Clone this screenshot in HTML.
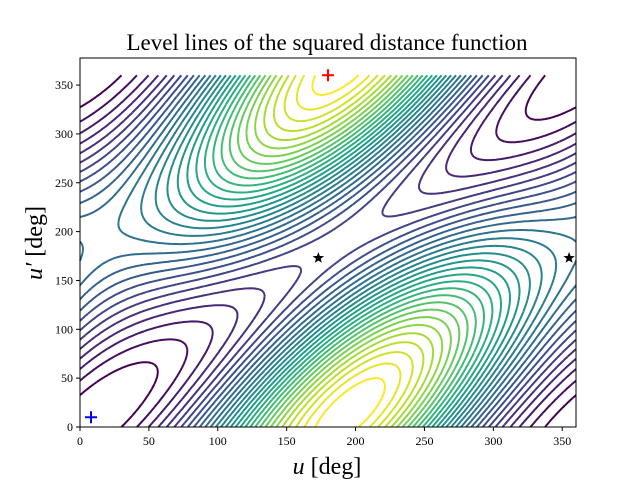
<!DOCTYPE html>
<html><head><meta charset="utf-8">
<style>
body{margin:0;background:#fff;}
svg{display:block;font-family:"Liberation Serif",serif;}
</style></head>
<body>
<svg id="chart" width="640" height="480" viewBox="0 0 640 480">
<rect width="640" height="480" fill="#fff"/>
<text x="327" y="50" font-size="23" text-anchor="middle">Level lines of the squared distance function</text>
<g id="contours"></g>
<rect x="80" y="58" width="496" height="369" fill="none" stroke="#000" stroke-width="1"/>
<g id="ticks"></g>
<g id="markers"></g>
<text x="327" y="474" font-size="24" text-anchor="middle"><tspan font-style="italic">u</tspan> [deg]</text>
<text transform="translate(42,243) rotate(-90)" font-size="24" text-anchor="middle"><tspan font-style="italic">u′</tspan> [deg]</text>
</svg>
<script>
const xTicks=[0,50,100,150,200,250,300,350];
const yTicks=[0,50,100,150,200,250,300,350];
const minimumPoint=[180,360];
const startPoint=[8,10];
const saddlePoints=[[173,173],[355,173]];
const levelCount=30;
const NS="http://www.w3.org/2000/svg";
const X0=80,X1=576,Y0=427,Y1=58;
const xmax=360,ymax=377.7;
function sx(u){return X0+(X1-X0)*u/xmax;}
function sy(v){return Y0-(Y0-Y1)*v/ymax;}
const R=Math.PI/180;
function f(u,v){
  const d=(u-v)*R;
  const base=(1-Math.cos(d))*(1+0.45*Math.cos((u-195)*R));
  const val=0.3*(1-Math.cos((u-10)*R))*(1+Math.cos(d))/2;
  return base+val;
}
const viridis=[[68,1,84],[72,40,120],[62,74,137],[49,104,142],[38,130,142],[31,158,137],[53,183,121],[110,206,88],[181,222,43],[253,231,37]];
function cmap(s){s=Math.max(0,Math.min(1,s))*(viridis.length-1);const i=Math.min(Math.floor(s),viridis.length-2),fr=s-i;
  const c=viridis[i].map((a,k)=>Math.round(a+(viridis[i+1][k]-a)*fr));return `rgb(${c[0]},${c[1]},${c[2]})`;}
const N=180,step=360/N;const grid=[];
let fmin=1e9,fmax=-1e9;
for(let j=0;j<=N;j++){grid[j]=[];for(let i=0;i<=N;i++){const z=f(i*step,j*step);grid[j][i]=z;fmin=Math.min(fmin,z);fmax=Math.max(fmax,z);}}
const cg=document.getElementById('contours');
for(let k=1;k<=levelCount;k++){
  const L=fmin+(fmax-fmin)*k/(levelCount+1);
  let d="";
  for(let j=0;j<N;j++)for(let i=0;i<N;i++){
    const a=grid[j][i],b=grid[j][i+1],c=grid[j+1][i+1],e=grid[j+1][i];
    const pts=[];
    function ed(z1,z2,x1,y1,x2,y2){if((z1<L)!==(z2<L)){const t=(L-z1)/(z2-z1);pts.push([x1+(x2-x1)*t,y1+(y2-y1)*t]);}}
    const u0=i*step,u1=(i+1)*step,v0=j*step,v1=(j+1)*step;
    ed(a,b,u0,v0,u1,v0);ed(b,c,u1,v0,u1,v1);ed(c,e,u1,v1,u0,v1);ed(e,a,u0,v1,u0,v0);
    for(let p=0;p+1<pts.length;p+=2){d+=`M${sx(pts[p][0]).toFixed(1)} ${sy(pts[p][1]).toFixed(1)}L${sx(pts[p+1][0]).toFixed(1)} ${sy(pts[p+1][1]).toFixed(1)}`;}
  }
  const path=document.createElementNS(NS,'path');
  path.setAttribute('d',d);path.setAttribute('fill','none');
  path.setAttribute('stroke',cmap((k-1)/(levelCount-1)));path.setAttribute('stroke-width','2');
  
  
  cg.appendChild(path);
}
const tg=document.getElementById('ticks');
function add(tag,attrs,txt){const el=document.createElementNS(NS,tag);for(const a in attrs)el.setAttribute(a,attrs[a]);if(txt!==undefined)el.textContent=txt;tg.appendChild(el);return el;}
xTicks.forEach(v=>{const x=sx(v);
  const l=add('line',{x1:x,x2:x,y1:Y0,y2:Y0+4,stroke:'#000'});
  
  
  const t=add('text',{x:x,y:Y0+18,'font-size':12,'text-anchor':'middle'},v);
  
  });
yTicks.forEach(v=>{const y=sy(v);
  const l=add('line',{x1:X0-4,x2:X0,y1:y,y2:y,stroke:'#000'});
  
  
  const t=add('text',{x:X0-7,y:y+4,'font-size':12,'text-anchor':'end'},v);
  
  });
const mg=document.getElementById('markers');
function cross(p,col,name){const x=sx(p[0]),y=sy(p[1]);const el=document.createElementNS(NS,'path');
  el.setAttribute('d',`M${x-6} ${y}H${x+6}M${x} ${y-6}V${y+6}`);el.setAttribute('stroke',col);el.setAttribute('stroke-width','2');
  
  
  mg.appendChild(el);}
cross(minimumPoint,'#ff0000','minimum-marker');
cross(startPoint,'#0000ff','start-marker');
saddlePoints.forEach(p=>{const x=sx(p[0]),y=sy(p[1]);let d="";
  for(let k=0;k<10;k++){const r=k%2?2.5:6,a=-Math.PI/2+k*Math.PI/5;d+=(k?'L':'M')+(x+r*Math.cos(a)).toFixed(1)+' '+(y+r*Math.sin(a)).toFixed(1);}
  const el=document.createElementNS(NS,'path');el.setAttribute('d',d+'Z');el.setAttribute('fill','#000');
  
  
  mg.appendChild(el);});
</script>
</body></html>
